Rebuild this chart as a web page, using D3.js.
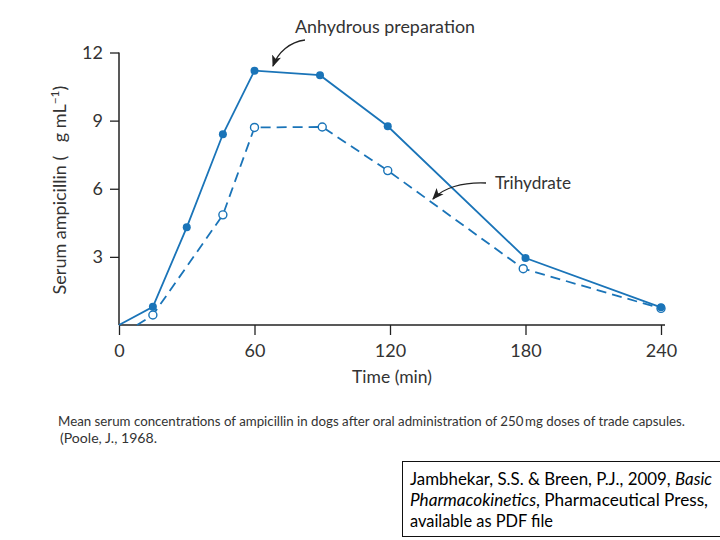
<!DOCTYPE html>
<html><head><meta charset="utf-8">
<script src="https://cdn.jsdelivr.net/npm/d3@7"></script>
<style>
body{margin:0;background:#fff;}
svg{display:block;}
</style></head>
<body>
<svg id="c" width="720" height="540"></svg>
<script>
const xTicks = [0, 60, 120, 180, 240];
const yTicks = [3, 6, 9, 12];
const anhydTime = [0, 15, 30, 46, 60, 89, 119, 180, 240];
const anhydConc = [0, 0.8, 4.3, 8.4, 11.2, 11.0, 8.75, 2.95, 0.78];
const trihTime = [8, 15, 46, 60, 90, 119, 179, 240];
const trihConc = [0, 0.44, 4.85, 8.7, 8.72, 6.8, 2.48, 0.73];
const trihMarkers = [false, true, true, true, true, true, true, true];
const anhydLabel = "Anhydrous preparation";
const trihLabel = "Trihydrate";
const xTitle = "Time (min)";
const yTitle = "Serum ampicillin (\u2002 g mL";
const caption1 = "Mean serum concentrations of ampicillin in dogs after oral administration of 250\u2009mg doses of trade capsules.";
const caption2 = "(Poole, J., 1968.";

const blue = "#1a74b8";
const ink = "#333";
const svg = d3.select("#c");
const font = "Lato, 'Open Sans', sans-serif";

const x = d3.scaleLinear().domain([0, 240]).range([119, 661]);
const y = d3.scaleLinear().domain([0, 12]).range([325, 52.5]);

// axes
const xAxis = svg.append("g").attr("transform", "translate(0,325)")
  .call(d3.axisBottom(x).tickValues(xTicks).tickSize(10).tickSizeOuter(0).tickPadding(6));
xAxis.select(".domain").attr("d", "M119,0H665").attr("stroke", "#222").attr("stroke-width", 1.5);
xAxis.selectAll(".tick line").attr("stroke", "#222").attr("stroke-width", 1.3);
xAxis.selectAll(".tick text").attr("font-family", font).attr("font-size", 18).attr("fill", ink).attr("dy", "0.9em");

const yAxis = svg.append("g").attr("transform", "translate(119,0)")
  .call(d3.axisLeft(y).tickValues(yTicks).tickSize(9).tickSizeOuter(0).tickPadding(7));
yAxis.select(".domain").attr("d", "M0,325V52.5").attr("stroke", "#222").attr("stroke-width", 1.5);
yAxis.selectAll(".tick line").attr("stroke", "#222").attr("stroke-width", 1.3);
yAxis.selectAll(".tick text").attr("font-family", font).attr("font-size", 18).attr("fill", ink);

// lines
const anhyd = anhydTime.map((t, i) => ({t, c: anhydConc[i]}));
const trih = trihTime.map((t, i) => ({t, c: trihConc[i], m: trihMarkers[i]}));
const line = d3.line().x(d => x(d.t)).y(d => y(d.c));

svg.append("path").datum(trih).attr("d", line).attr("fill", "none")
  .attr("stroke", blue).attr("stroke-width", 1.8).attr("stroke-dasharray", "10,6");
svg.append("path").datum(anhyd).attr("d", line).attr("fill", "none")
  .attr("stroke", blue).attr("stroke-width", 1.8);

svg.selectAll("circle.tri").data(trih.filter(d => d.m)).join("circle").attr("class", "tri")
  .attr("cx", d => x(d.t)).attr("cy", d => y(d.c)).attr("r", 4)
  .attr("fill", "#fff").attr("stroke", blue).attr("stroke-width", 1.4);
svg.selectAll("circle.an").data(anhyd.filter(d => d.c > 0)).join("circle").attr("class", "an")
  .attr("cx", d => x(d.t)).attr("cy", d => y(d.c)).attr("r", 4)
  .attr("fill", blue);

// annotations
const defs = svg.append("defs");
defs.append("marker").attr("id", "ah").attr("viewBox", "0 0 10 10").attr("refX", 9).attr("refY", 5)
  .attr("markerWidth", 9).attr("markerHeight", 9).attr("orient", "auto")
  .append("path").attr("d", "M0,1 L10,5 L0,9 L2.5,5 Z").attr("fill", "#222");

svg.append("text").attr("x", 295).attr("y", 33).attr("font-family", font).attr("font-size", 18)
  .attr("fill", ink).attr("textLength", 180).attr("lengthAdjust", "spacingAndGlyphs").text(anhydLabel);
svg.append("path").attr("d", "M305,40 C290,42 278,52 273,66").attr("fill", "none")
  .attr("stroke", "#222").attr("stroke-width", 1.3).attr("marker-end", "url(#ah)");

svg.append("text").attr("x", 495).attr("y", 189).attr("font-family", font).attr("font-size", 17)
  .attr("fill", ink).attr("textLength", 76).attr("lengthAdjust", "spacingAndGlyphs").text(trihLabel);
svg.append("path").attr("d", "M486,183 C462,182 443,188 433,199").attr("fill", "none")
  .attr("stroke", "#222").attr("stroke-width", 1.3).attr("marker-end", "url(#ah)");

// axis titles
svg.append("text").attr("x", 392).attr("y", 383).attr("text-anchor", "middle")
  .attr("font-family", font).attr("font-size", 17.5).attr("fill", ink).text(xTitle);
const yt = svg.append("text").attr("transform", "translate(66,190) rotate(-90)")
  .attr("text-anchor", "middle").attr("font-family", font).attr("font-size", 18).attr("fill", ink);
yt.append("tspan").text(yTitle);
yt.append("tspan").attr("dy", -7).attr("font-size", 12).text("\u22121");
yt.append("tspan").attr("dy", 7).text(")");

// caption
svg.append("text").attr("x", 58).attr("y", 426).attr("font-family", font).attr("font-size", 13.5)
  .attr("fill", ink).attr("textLength", 627).attr("lengthAdjust", "spacingAndGlyphs").text(caption1);
svg.append("text").attr("x", 60).attr("y", 443).attr("font-family", font).attr("font-size", 13.5)
  .attr("fill", ink).attr("textLength", 97).attr("lengthAdjust", "spacingAndGlyphs").text(caption2);

// citation box
svg.append("rect").attr("x", 402.5).attr("y", 461.5).attr("width", 330).attr("height", 75)
  .attr("fill", "#fff").attr("stroke", "#111").attr("stroke-width", 1);
const cf = "Lato, 'Open Sans', sans-serif";
const t1 = svg.append("text").attr("x", 410).attr("y", 485).attr("font-family", cf).attr("font-size", 16.5)
  .attr("fill", "#000").attr("textLength", 302).attr("lengthAdjust", "spacingAndGlyphs");
t1.append("tspan").text("Jambhekar, S.S. & Breen, P.J., 2009, ");
t1.append("tspan").attr("font-style", "italic").text("Basic");
const t2 = svg.append("text").attr("x", 410).attr("y", 506).attr("font-family", cf).attr("font-size", 16.5)
  .attr("fill", "#000").attr("textLength", 298).attr("lengthAdjust", "spacingAndGlyphs");
t2.append("tspan").attr("font-style", "italic").text("Pharmacokinetics");
t2.append("tspan").text(", Pharmaceutical Press,");
svg.append("text").attr("x", 410).attr("y", 527).attr("font-family", cf).attr("font-size", 16.5).attr("fill", "#000")
  .attr("textLength", 143).attr("lengthAdjust", "spacingAndGlyphs").text("available as PDF file");
</script>
</body></html>
